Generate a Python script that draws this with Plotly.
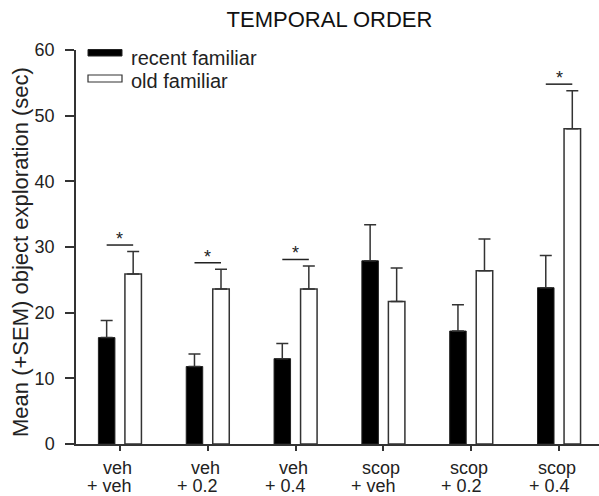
import plotly.graph_objects as go

# ---- data ----
label_top = ["veh", "veh", "veh", "scop", "scop", "scop"]
label_bottom = ["+ veh", "+ 0.2", "+ 0.4", "+ veh", "+ 0.2", "+ 0.4"]
recent = [16.2, 11.8, 13.0, 27.9, 17.2, 23.8]
recent_sem = [2.6, 1.9, 2.3, 5.5, 4.0, 4.9]
old = [25.9, 23.6, 23.6, 21.7, 26.4, 48.0]
old_sem = [3.4, 3.0, 3.5, 5.1, 4.8, 5.8]
significant = [0, 1, 2, 5]
y_ticks = [0, 10, 20, 30, 40, 50, 60]
series_names = ["recent familiar", "old familiar"]

FONT = "Liberation Sans, Arial, sans-serif"
DARK = "#222222"
positions = list(range(len(recent)))

BAR_W = 0.188
GAP = 0.114
off_recent = -(GAP / 2 + BAR_W)
off_old = GAP / 2

fig = go.Figure()
fig.add_trace(go.Bar(
    x=positions, y=recent, width=BAR_W, offset=off_recent, name=series_names[0],
    marker=dict(color="#000000", line=dict(color=DARK, width=1)),
    error_y=dict(type="data", array=recent_sem, arrayminus=[0] * len(recent),
                 symmetric=False, color="#333333", thickness=1.5, width=6),
    showlegend=False,
))
fig.add_trace(go.Bar(
    x=positions, y=old, width=BAR_W, offset=off_old, name=series_names[1],
    marker=dict(color="#ffffff", line=dict(color="#333333", width=1.5)),
    error_y=dict(type="data", array=old_sem, arrayminus=[0] * len(old),
                 symmetric=False, color="#333333", thickness=1.5, width=6),
    showlegend=False,
))

shapes = []
annotations = []

# significance lines + stars
c_recent = off_recent + BAR_W / 2
c_old = off_old + BAR_W / 2
for i in significant:
    top = max(recent[i] + recent_sem[i], old[i] + old_sem[i]) + 1.0
    shapes.append(dict(type="line", xref="x", yref="y", x0=i + c_recent, x1=i + c_old,
                       y0=top, y1=top, line=dict(color=DARK, width=1.5)))
    annotations.append(dict(text="*", x=i, y=top, xref="x", yref="y", showarrow=False,
                            yanchor="middle", yshift=6, font=dict(family=FONT, size=18, color=DARK)))

# x category labels (two lines)
for i in positions:
    annotations.append(dict(text=label_top[i], x=i, y=0, xref="x", yref="paper", showarrow=False,
                            yanchor="middle", yshift=-23.5, xshift=-2,
                            font=dict(family=FONT, size=18, color=DARK)))
    annotations.append(dict(text=label_bottom[i], x=i, y=0, xref="x", yref="paper", showarrow=False,
                            yanchor="middle", yshift=-41.5, xshift=-10,
                            font=dict(family=FONT, size=18, color=DARK)))

# custom legend
L, W, T, H = 76, 523, 50, 394
def px(xp):
    return (xp - L) / W
def py(yp):
    return (T + H - yp) / H

shapes.append(dict(type="rect", xref="paper", yref="paper", x0=px(88), x1=px(122), y0=py(56), y1=py(49.5),
                   fillcolor="#000000", line=dict(color=DARK, width=1)))
shapes.append(dict(type="rect", xref="paper", yref="paper", x0=px(88), x1=px(122), y0=py(82), y1=py(75),
                   fillcolor="#ffffff", line=dict(color="#333333", width=1.2)))
annotations.append(dict(text=series_names[0], x=px(129), y=py(58), xref="paper", yref="paper",
                        xanchor="left", yanchor="middle", showarrow=False,
                        font=dict(family=FONT, size=20, color=DARK)))
annotations.append(dict(text=series_names[1], x=px(129), y=py(81), xref="paper", yref="paper",
                        xanchor="left", yanchor="middle", showarrow=False,
                        font=dict(family=FONT, size=20, color=DARK)))

# y title
annotations.append(dict(text="Mean (+SEM) object exploration (sec)", x=px(20.5), y=py(252.5),
                        xref="paper", yref="paper", textangle=-90, showarrow=False,
                        xanchor="center", yanchor="middle",
                        font=dict(family=FONT, size=22, color=DARK)))

fig.update_layout(
    width=599, height=496,
    margin=dict(l=L, r=0, t=T, b=496 - T - H),
    paper_bgcolor="white", plot_bgcolor="white",
    title=dict(text="TEMPORAL ORDER", x=329.5 / 599, xref="paper", xanchor="center",
               y=1 - 19 / 496, yref="container", yanchor="middle",
               font=dict(family=FONT, size=22, color="#111111")),
    barmode="overlay",
    shapes=shapes, annotations=annotations,
    showlegend=False,
)
fig.update_layout(title_x=329.5 / 599, title_xref="container")
fig.update_xaxes(range=[-0.5, 5.455], tickvals=positions, showticklabels=False,
                 ticks="outside", ticklen=5, tickwidth=1.5, tickcolor="#333333",
                 showline=True, linecolor="#333333", linewidth=1.5, showgrid=False, zeroline=False,
                 fixedrange=True)
fig.update_yaxes(range=[0, 60], tickvals=y_ticks, ticks="outside", ticklen=9, tickwidth=1.5,
                 tickcolor="#333333", showline=True, linecolor="#333333", linewidth=1.5,
                 showgrid=False, zeroline=False, ticklabelstandoff=7,
                 tickfont=dict(family=FONT, size=18, color=DARK))

fig.write_html("out.html")
